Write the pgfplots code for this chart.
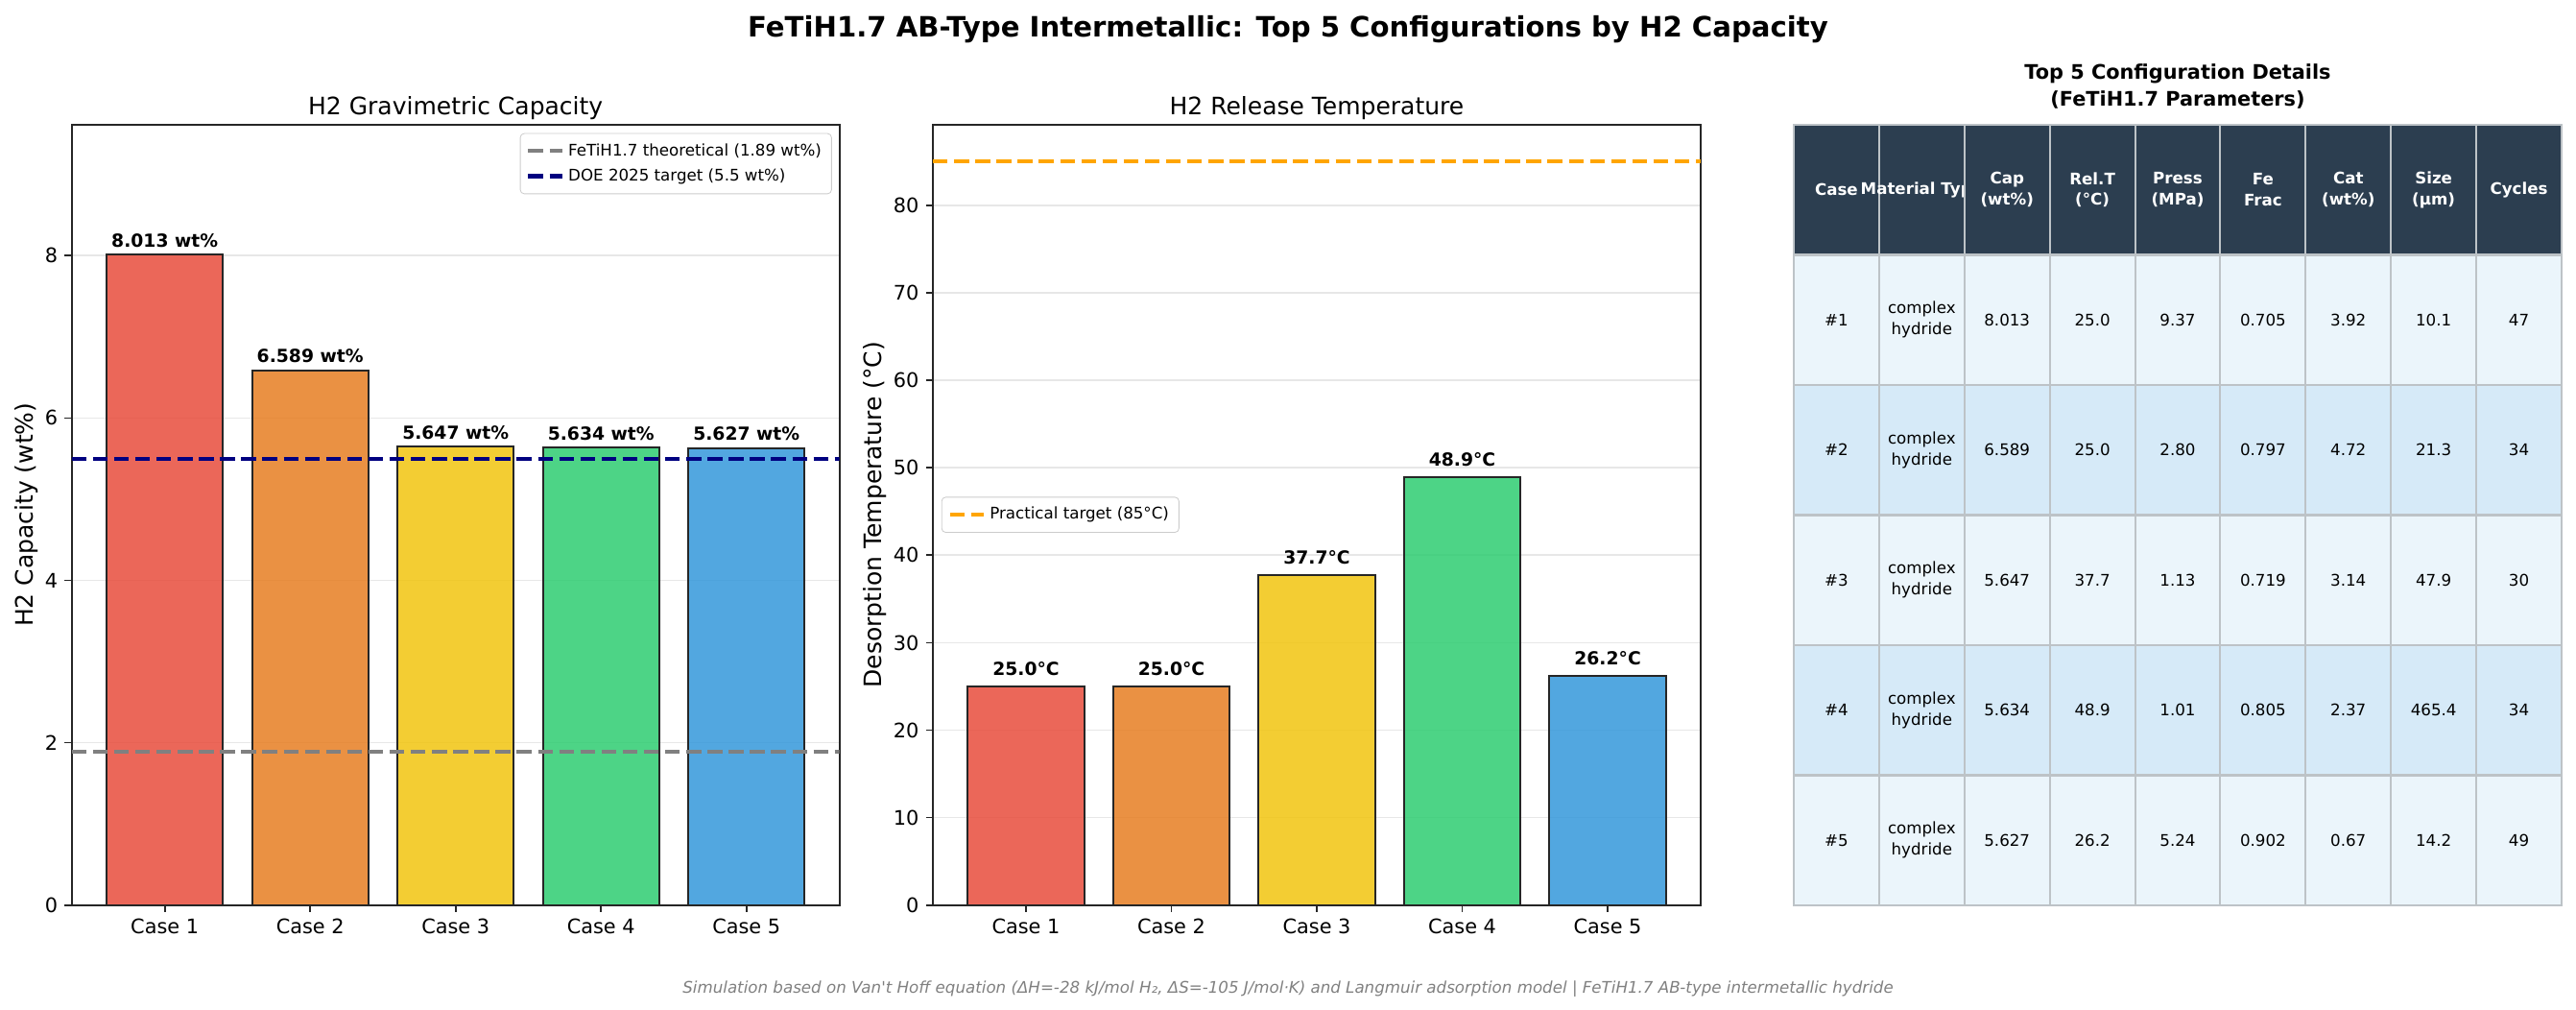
\documentclass[border=0pt]{standalone}
\usepackage{fontspec}
\setmainfont{DejaVu Sans}
\usepackage{pgfplots}
\pgfplotsset{compat=1.18}

\definecolor{c1}{HTML}{E74C3C}
\definecolor{c2}{HTML}{E67E22}
\definecolor{c3}{HTML}{F1C40F}
\definecolor{c4}{HTML}{2ECC71}
\definecolor{c5}{HTML}{3498DB}
\definecolor{gridc}{HTML}{E7E7E7}
\definecolor{hdr}{HTML}{2C3E50}
\definecolor{rowA}{HTML}{EBF5FB}
\definecolor{rowB}{HTML}{D6EAF8}
\definecolor{tabedge}{HTML}{BDC3C7}
\definecolor{mplorange}{HTML}{FFA500}
\definecolor{mplgray}{HTML}{808080}
\definecolor{mplnavy}{HTML}{000080}

\pgfplotsset{
  /pgf/number format/assume math mode=true,
  panel/.style={
    anchor=south west, scale only axis, width=384pt, height=390.24pt,
    xmin=-0.64, xmax=4.64, ymin=0,
    xtick={0,1,2,3,4},
    xticklabels={Case 1,Case 2,Case 3,Case 4,Case 5},
    tick align=outside, tick pos=left,
    major tick length=3.5pt,
    tick style={black!85, line width=0.8pt},
    axis line style={black!85, line width=0.8pt},
    ymajorgrids, major grid style={gridc, line width=0.8pt},
    tick label style={font=\fontsize{10}{12}\selectfont},
    label style={font=\fontsize{12}{14}\selectfont},
    ylabel shift=-3.5pt,
    title style={font=\fontsize{12}{14}\selectfont, at={(0.5,1)}, anchor=base, yshift=-0.9pt},
    legend style={font=\fontsize{8}{9.6}\selectfont, draw=black!20, rounded corners=2pt,
      fill=white, fill opacity=0.8, text opacity=1, cells={anchor=west},
      inner xsep=3pt, inner ysep=3pt, row sep=1pt},
  },
  mybar/.style={ybar, bar width=0.8, bar shift=0pt, fill=#1, fill opacity=0.85,
    draw=black!85, line width=1pt, forget plot,
    point meta=explicit symbolic, nodes near coords,
    every node near coord/.append style={font=\bfseries\fontsize{9}{11}\selectfont,
      text opacity=1, fill opacity=1, inner sep=0pt, anchor=south}},
}

\newcommand\cell[5]{%
  \path[fill=#3, draw=tabedge, line width=1pt] ({1869+(#1)*88.889},{130+(#2)*135.5}) rectangle ++(88.889,135.5);
  \node[align=center, inner sep=0pt, font=\fontsize{8}{10.5}\selectfont#5] at ({1869+(#1+0.5)*88.889},{130+(#2+0.5)*135.5}) {#4};}
\newcommand\trow[3]{%
  \foreach \t [count=\c from 0] in {#3} {\cell{\c}{#1}{#2}{\t}{}}}

\begin{document}
\begin{tikzpicture}
\path[use as bounding box] (0,0) rectangle (1288.32pt,504.96pt);

% left panel: capacity
\begin{axis}[panel, at={(35.86pt,52.46pt)}, ymax=9.616,
  ytick={0,2,4,6,8},
  title={H2 Gravimetric Capacity},
  ylabel={H2 Capacity (wt\%)},
  legend style={at={(1,1)}, anchor=north east, xshift=-3.8pt, yshift=-4.3pt},
  every node near coord/.append style={yshift=3.2pt},
]
\addplot[mybar=c1] coordinates {(0,8.013) [8.013 wt\%]};
\addplot[mybar=c2] coordinates {(1,6.589) [6.589 wt\%]};
\addplot[mybar=c3] coordinates {(2,5.647) [5.647 wt\%]};
\addplot[mybar=c4] coordinates {(3,5.634) [5.634 wt\%]};
\addplot[mybar=c5] coordinates {(4,5.627) [5.627 wt\%]};
\addplot[mplgray, line width=2pt, dash pattern=on 7.4pt off 3.2pt] coordinates {(-0.64,1.89) (4.64,1.89)};
\addlegendentry{FeTiH1.7 theoretical (1.89 wt\%)}
\addplot[mplnavy, line width=2pt, dash pattern=on 7.4pt off 3.2pt] coordinates {(-0.64,5.5) (4.64,5.5)};
\addlegendentry{DOE 2025 target (5.5 wt\%)}
\end{axis}

% middle panel: temperature
\begin{axis}[panel, at={(466.56pt,52.46pt)}, ymax=89.25,
  ytick={0,10,...,80},
  title={H2 Release Temperature},
  ylabel={Desorption Temperature (°C)},
  legend style={at={(0,0.5)}, anchor=west, xshift=4.2pt},
  every node near coord/.append style={yshift=4.8pt},
]
\addplot[mybar=c1] coordinates {(0,25.0) [25.0°C]};
\addplot[mybar=c2] coordinates {(1,25.0) [25.0°C]};
\addplot[mybar=c3] coordinates {(2,37.7) [37.7°C]};
\addplot[mybar=c4] coordinates {(3,48.9) [48.9°C]};
\addplot[mybar=c5] coordinates {(4,26.2) [26.2°C]};
\addplot[mplorange, line width=2pt, dash pattern=on 7.4pt off 3.2pt] coordinates {(-0.64,85) (4.64,85)};
\addlegendentry{Practical target (85°C)}
\end{axis}

% titles, table, footer in image pixel coordinates
\begin{scope}[x=0.48pt, y=-0.48pt, shift={(0pt,504.96pt)}]
\node[anchor=base, font=\bfseries\fontsize{14}{17}\selectfont] at (1342,38.4)
  {FeTiH1.7 AB-Type Intermetallic: Top 5 Configurations by H2 Capacity};
\node[anchor=base, font=\bfseries\fontsize{10}{12}\selectfont] at (2269,82.5) {Top 5 Configuration Details};
\node[anchor=base, font=\bfseries\fontsize{10}{12}\selectfont] at (2269,110.5) {(FeTiH1.7 Parameters)};

\foreach \t [count=\c from 0] in {Case,Material Type,{Cap\\(wt\%)},{Rel.T\\(°C)},{Press\\(MPa)},{Fe\\Frac},{Cat\\(wt\%)},{Size\\(µm)},Cycles}
  {\cell{\c}{0}{hdr}{\t}{\bfseries\color{white}}}
\trow{1}{rowA}{\#1,{complex\\hydride},8.013,25.0,9.37,0.705,3.92,10.1,47}
\trow{2}{rowB}{\#2,{complex\\hydride},6.589,25.0,2.80,0.797,4.72,21.3,34}
\trow{3}{rowA}{\#3,{complex\\hydride},5.647,37.7,1.13,0.719,3.14,47.9,30}
\trow{4}{rowB}{\#4,{complex\\hydride},5.634,48.9,1.01,0.805,2.37,465.4,34}
\trow{5}{rowA}{\#5,{complex\\hydride},5.627,26.2,5.24,0.902,0.67,14.2,49}

\node[anchor=base, text=mplgray, font=\itshape\fontsize{8}{10}\selectfont] at (1342,1035)
  {Simulation based on Van\textquotesingle t Hoff equation (ΔH=-28 kJ/mol H₂, ΔS=-105 J/mol·K) and Langmuir adsorption model | FeTiH1.7 AB-type intermetallic hydride};
\end{scope}
\end{tikzpicture}
\end{document}
